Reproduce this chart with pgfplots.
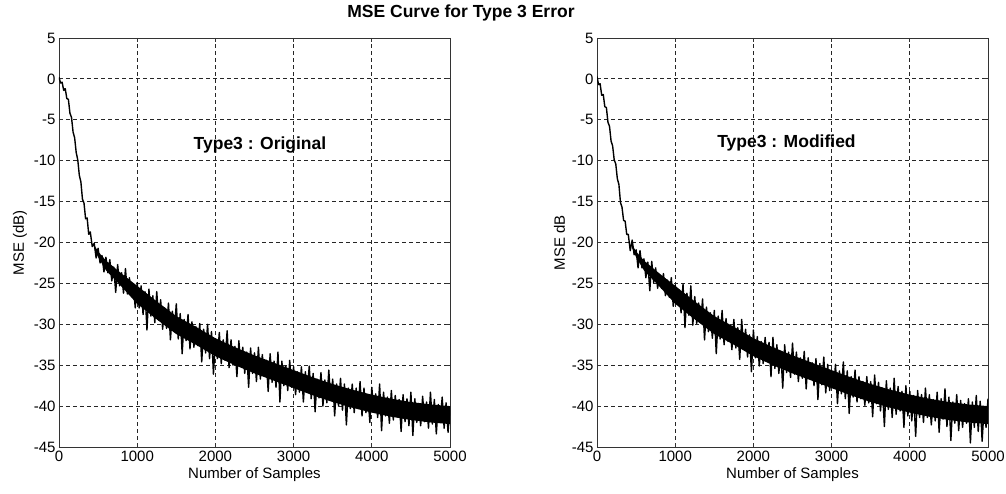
\documentclass[border=0pt]{standalone}
\usepackage{pgfplots}
\pgfplotsset{compat=1.18}
\usepackage{fontspec}
\setmainfont{Liberation Sans}

% MSE learning curves (dB) over 5000 samples, original and modified algorithm
\pgfplotstableread{
x y
0 0.2
20 -0.5
40 -0.4
60 -1.4
80 -1.2
100 -2.4
120 -2.5
140 -4.2
160 -4.7
180 -6.5
200 -7.2
220 -9.0
240 -9.9
260 -11.8
280 -12.6
300 -14.7
320 -15.2
340 -17.1
360 -17.0
380 -19.0
400 -18.7
425 -20.5
450 -20.1
475 -21.9
500 -20.7
525 -22.5
550 -21.6
575 -23.6
600 -21.8
625 -23.7
650 -22.1
675 -24.7
700 -23.0
725 -26.1
750 -22.7
775 -25.3
800 -23.7
825 -26.2
850 -23.2
875 -26.3
900 -24.3
925 -26.4
950 -25.1
975 -28.0
1000 -24.9
1025 -28.0
1050 -25.3
1075 -28.8
1100 -26.0
1125 -30.7
1150 -25.7
1175 -29.0
1200 -26.5
1225 -29.8
1250 -26.0
1275 -29.5
1300 -27.0
1325 -30.6
1350 -28.0
1375 -30.5
1400 -27.4
1425 -31.9
1450 -28.4
1475 -30.8
1500 -27.5
1525 -31.8
1550 -28.7
1575 -33.6
1600 -29.4
1625 -32.0
1650 -28.8
1675 -33.0
1700 -29.7
1725 -32.8
1750 -30.3
1775 -32.6
1800 -29.9
1825 -34.6
1850 -30.6
1875 -33.5
1900 -30.0
1925 -34.2
1950 -30.9
1975 -36.1
2000 -31.8
2025 -34.2
2050 -31.0
2075 -34.8
2100 -31.9
2125 -34.4
2150 -30.8
2175 -35.3
2200 -31.9
2225 -35.0
2250 -32.7
2275 -36.4
2300 -32.0
2325 -35.1
2350 -32.8
2375 -36.0
2400 -33.4
2425 -37.7
2450 -32.9
2475 -36.0
2500 -33.5
2525 -37.0
2550 -32.8
2575 -36.7
2600 -33.7
2625 -36.3
2650 -34.4
2675 -38.2
2700 -33.6
2725 -37.1
2750 -34.5
2775 -37.7
2800 -33.4
2825 -39.5
2850 -34.5
2875 -37.5
2900 -35.1
2925 -38.1
2950 -34.4
2975 -37.7
3000 -35.2
3025 -38.6
3050 -35.8
3075 -38.3
3100 -35.2
3125 -39.5
3150 -35.8
3175 -38.2
3200 -35.1
3225 -39.1
3250 -36.0
3275 -40.7
3300 -36.7
3325 -39.0
3350 -35.9
3375 -40.0
3400 -36.8
3425 -39.6
3450 -35.6
3475 -39.3
3500 -36.7
3525 -41.2
3550 -37.3
3575 -40.0
3600 -36.6
3625 -40.5
3650 -37.3
3675 -42.3
3700 -37.8
3725 -40.3
3750 -37.3
3775 -40.8
3800 -37.8
3825 -40.3
3850 -37.0
3875 -41.2
3900 -37.8
3925 -40.8
3950 -38.6
3975 -42.0
4000 -37.7
4025 -40.6
4050 -38.5
4075 -41.4
4100 -37.3
4125 -43.0
4150 -38.3
4175 -41.2
4200 -38.9
4225 -42.1
4250 -38.1
4275 -41.7
4300 -38.7
4325 -41.3
4350 -39.2
4375 -43.1
4400 -38.6
4425 -41.9
4450 -39.1
4475 -42.4
4500 -38.3
4525 -43.6
4550 -39.1
4575 -42.0
4600 -39.7
4625 -42.4
4650 -38.8
4675 -41.9
4700 -39.5
4725 -42.7
4750 -38.3
4775 -42.2
4800 -39.2
4825 -43.4
4850 -39.8
4875 -41.9
4900 -38.9
4925 -42.7
4950 -39.6
4975 -43.2
5000 -40.0
}\original

\pgfplotstableread{
x y
0 0.3
20 -0.7
40 -0.6
60 -2.0
80 -1.9
100 -3.4
120 -3.5
140 -5.3
160 -5.8
180 -7.6
200 -8.2
220 -9.9
240 -10.4
260 -12.2
280 -12.9
300 -15.1
320 -15.7
340 -17.3
360 -17.4
380 -19.0
400 -19.0
425 -21.0
450 -19.7
475 -21.5
500 -20.9
525 -23.1
550 -21.0
575 -23.1
600 -22.0
625 -24.3
650 -22.4
675 -25.9
700 -22.3
725 -24.9
750 -23.1
775 -25.6
800 -23.9
825 -25.6
850 -23.8
875 -26.5
900 -24.6
925 -26.7
950 -24.3
975 -27.8
1000 -25.2
1025 -27.5
1050 -25.8
1075 -28.6
1100 -25.1
1125 -30.4
1150 -26.2
1175 -28.9
1200 -25.3
1225 -30.1
1250 -26.6
1275 -29.9
1300 -27.4
1325 -29.8
1350 -26.9
1375 -31.9
1400 -27.9
1425 -30.9
1450 -28.6
1475 -31.7
1500 -28.3
1525 -33.6
1550 -29.0
1575 -31.8
1600 -28.3
1625 -32.5
1650 -29.3
1675 -32.1
1700 -30.2
1725 -33.1
1750 -29.4
1775 -32.9
1800 -30.4
1825 -34.3
1850 -29.4
1875 -33.0
1900 -30.6
1925 -34.0
1950 -31.3
1975 -35.8
2000 -30.7
2025 -34.1
2050 -31.5
2075 -35.1
2100 -32.1
2125 -34.8
2150 -31.6
2175 -34.5
2200 -32.2
2225 -36.4
2250 -31.6
2275 -35.4
2300 -32.5
2325 -36.0
2350 -33.3
2375 -37.8
2400 -32.5
2425 -35.9
2450 -33.4
2475 -36.5
2500 -32.3
2525 -36.1
2550 -33.4
2575 -37.0
2600 -34.1
2625 -36.6
2650 -33.3
2675 -37.9
2700 -34.1
2725 -36.6
2750 -34.7
2775 -37.5
2800 -34.2
2825 -39.2
2850 -34.8
2875 -37.4
2900 -34.0
2925 -38.4
2950 -34.9
2975 -38.1
3000 -35.7
3025 -37.8
3050 -34.9
3075 -39.7
3100 -35.7
3125 -38.5
3150 -34.6
3175 -39.1
3200 -35.7
3225 -40.9
3250 -36.4
3275 -38.9
3300 -35.6
3325 -39.5
3350 -36.4
3375 -39.1
3400 -37.0
3425 -39.9
3450 -36.4
3475 -39.6
3500 -37.0
3525 -41.3
3550 -36.2
3575 -39.7
3600 -37.1
3625 -40.6
3650 -37.8
3675 -42.5
3700 -36.9
3725 -40.4
3750 -37.8
3775 -41.4
3800 -36.6
3825 -41.0
3850 -37.6
3875 -40.6
3900 -38.2
3925 -42.6
3950 -37.5
3975 -41.2
4000 -38.2
4025 -41.8
4050 -38.7
4075 -43.7
4100 -38.1
4125 -41.4
4150 -38.6
4175 -42.0
4200 -37.8
4225 -41.4
4250 -38.6
4275 -42.3
4300 -39.2
4325 -41.8
4350 -38.3
4375 -43.2
4400 -39.1
4425 -41.6
4450 -37.9
4475 -42.5
4500 -38.9
4525 -44.2
4550 -39.5
4575 -42.1
4600 -38.6
4625 -43.0
4650 -39.3
4675 -42.6
4700 -39.7
4725 -42.1
4750 -39.1
4775 -44.5
4800 -39.5
4825 -42.6
4850 -38.7
4875 -43.1
4900 -39.4
4925 -44.3
4950 -40.1
4975 -42.6
5000 -39.1
}\modified

% dense core of the noisy curve: upper edge forward, lower edge back
\pgfplotstableread{
x y
450 -20.3
500 -21.1
600 -22.2
800 -23.8
1000 -25.3
1250 -27.2
1500 -29.0
1750 -30.3
2000 -31.7
2250 -32.8
2500 -33.8
2750 -34.7
3000 -35.6
3250 -36.5
3500 -37.3
3750 -38.0
4000 -38.6
4250 -39.1
4500 -39.5
4750 -39.8
5000 -40.0
5000 -42.2
4750 -42.0
4500 -41.7
4250 -41.3
4000 -40.8
3750 -40.2
3500 -39.5
3250 -38.7
3000 -37.8
2750 -36.9
2500 -36.0
2250 -35.0
2000 -33.9
1750 -32.5
1500 -31.2
1250 -29.4
1000 -27.5
800 -25.4
600 -23.4
500 -21.8
450 -20.7
}\coreband

\pgfplotsset{
  msepanel/.style={
    scale only axis,
    width=391pt, height=409pt,
    anchor=south west,
    xmin=0, xmax=5000, ymin=-45, ymax=5,
    xtick={0,1000,...,5000},
    ytick={-45,-40,...,5},
    scaled x ticks=false,
    /pgf/number format/assume math mode=true,
    /pgf/number format/1000 sep={},
    tick label style={font=\fontsize{15}{18}\selectfont},
    label style={font=\fontsize{15}{18}\selectfont},
    xlabel={Number of Samples},
    grid=major,
    major grid style={black!85, line width=0.8pt, dash pattern=on 4pt off 3pt},
    axis line style={black!80, line width=0.9pt},
    tick align=inside,
    major tick length=4pt,
    tick style={black!80, line width=0.8pt},
  },
  msecurve/.style={black, no markers, line width=1.4pt, line join=round},
  msecore/.style={fill=black, draw=none, no markers},
}

\begin{document}
\begin{tikzpicture}
\path[use as bounding box] (-59pt,-47pt) rectangle (947pt,447pt);

\begin{axis}[msepanel, at={(0pt,0pt)}, ylabel={MSE (dB)}]
  \addplot[msecore] table[x=x, y=y] {\coreband} -- cycle;
  \addplot[msecurve] table[x=x, y=y] {\original};
  \node[anchor=base, font=\bfseries\fontsize{17.5}{20}\selectfont]
    at (axis cs:2570,-8.6) {Type3 : Original};
\end{axis}

\begin{axis}[msepanel, at={(538pt,0pt)}, ylabel={MSE dB}]
  \addplot[msecore] table[x=x, y=y] {\coreband} -- cycle;
  \addplot[msecurve] table[x=x, y=y] {\modified};
  \node[anchor=base, font=\bfseries\fontsize{17.5}{20}\selectfont]
    at (axis cs:2423,-8.4) {Type3 : Modified};
\end{axis}

\node[anchor=base, font=\bfseries\fontsize{17.5}{20}\selectfont]
  at (402pt,429pt) {MSE Curve for Type 3 Error};
\end{tikzpicture}
\end{document}
